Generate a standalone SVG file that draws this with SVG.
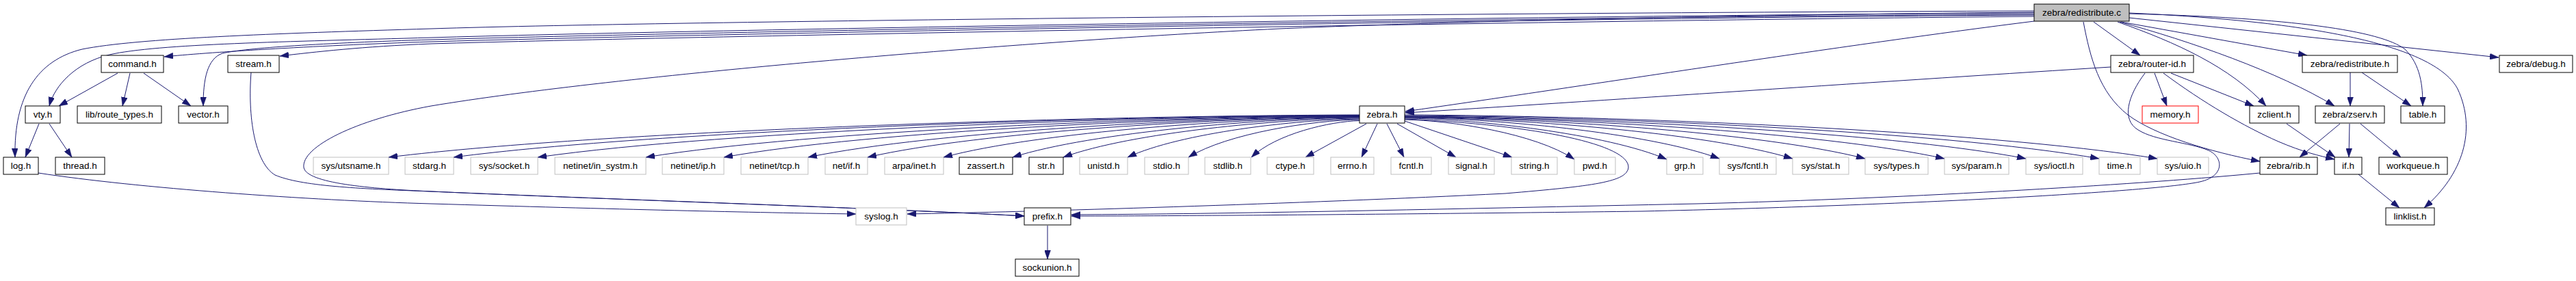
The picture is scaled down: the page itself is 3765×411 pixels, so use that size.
<svg xmlns="http://www.w3.org/2000/svg" width="3765" height="411" viewBox="0 0 3765 411">
<defs>
<marker id="a" markerUnits="userSpaceOnUse" markerWidth="13" markerHeight="9" viewBox="0 0 13 9" refX="13" refY="4.5" orient="auto">
<path d="M0,0 L13,4.5 L0,9 z" fill="#191970" stroke="#191970" stroke-width="0.5"/>
</marker>
</defs>
<style>
rect{stroke-width:1}
.n rect{fill:#fff;stroke:#000}
.s rect{fill:#fff;stroke:#bfbfbf}
.r rect{fill:#fff;stroke:#ff0000}
.t rect{fill:#bfbfbf;stroke:#000}
text{font-family:"Liberation Sans",Arial,sans-serif;font-size:13.5px;text-anchor:middle;fill:#000}
#edges path{fill:none;stroke:#191970;stroke-width:1;marker-end:url(#a)}
</style>
<rect x="0" y="0" width="3765" height="411" fill="#fff"/>
<g id="edges">
<path d="M2973,16 C2300,18 1000,30 630,42 C400,49 200,56 120,72 C55,88 20,140 22,230"/>
<path d="M2973,19 C2300,22 1000,44 630,55 C420,61 230,64 160,80 C110,92 80,125 72,155"/>
<path d="M2973,22 C2300,26 1000,50 630,61 C450,67 300,77 240,83"/>
<path d="M2973,21 C2300,24 1000,47 630,58 C470,63 360,70 325,78 C303,86 297,115 297,155"/>
<path d="M2973,24 C2300,30 1000,53 630,64 C530,68 460,76 409,82"/>
<path d="M2973,18 C2500,22 2100,32 1870,42 C1500,60 900,110 630,155 C520,175 440,215 444,245 C448,268 540,276 630,280 C900,292 1300,305 1497,316"/>
<path d="M2973,31 C2700,65 2300,128 2054,163"/>
<path d="M3085,98 C2800,116 2300,150 2054,165"/>
<path d="M3060,32 L3128,81"/>
<path d="M3045,32 C3055,85 3068,135 3110,168 C3150,198 3230,222 3303,236"/>
<path d="M3100,32 L3372,81"/>
<path d="M3112,26 L3652,84"/>
<path d="M3112,20 C3350,26 3480,45 3515,72 C3538,95 3541,125 3541,155"/>
<path d="M3112,19 C3400,32 3560,70 3592,130 C3620,190 3600,255 3543,304"/>
<path d="M3095,32 C3180,62 3260,98 3312,155"/>
<path d="M3098,32 C3200,60 3330,105 3412,155"/>
<path d="M3149,107 L3167,155"/>
<path d="M3173,107 L3294,155"/>
<path d="M3162,107 C3220,150 3280,185 3330,207 C3365,222 3390,228 3412,233"/>
<path d="M3135,107 C3110,140 3100,175 3125,190 C3150,206 3200,208 3228,220 C3250,230 3252,258 3215,266 C3150,280 2800,300 2400,309 C2000,314 1700,316 1566,316"/>
<path d="M3303,253 C3150,268 2800,290 2480,298 C2100,306 1800,313 1566,314"/>
<path d="M2053,174 C2250,183 2382,212 2380,245 C2378,266 2330,272 2200,283 C1900,298 1500,310 1326,313"/>
<path d="M56,253 C200,275 450,293 630,298 C900,306 1100,311 1251,313"/>
<path d="M367,106 C362,170 372,238 402,256 C440,272 520,276 630,280 C900,292 1300,305 1497,316"/>
<path d="M1531,330 L1531,379"/>
<path d="M172,107 L86,155"/>
<path d="M190,107 L179,155"/>
<path d="M210,107 L279,155"/>
<path d="M57,181 L37,230"/>
<path d="M72,181 L105,230"/>
<path d="M3435,106 L3435,155"/>
<path d="M3452,106 L3524,155"/>
<path d="M3420,181 L3361,230"/>
<path d="M3434,181 L3433,230"/>
<path d="M3450,181 L3509,230"/>
<path d="M3342,181 L3413,230"/>
<path d="M3447,255 L3507,304"/>
<path d="M1987,168 C1604,169 894,190 568,230"/>
<path d="M1987,168.5 C1629,169.5 967,190 663,230"/>
<path d="M1987,169 C1663,170 1062,190.6 786,230"/>
<path d="M1987,169.5 C1705,170.5 1184,191 944,230"/>
<path d="M1987,170 C1736,171 1272,191.3 1058,230"/>
<path d="M1987,170.5 C1769,171.5 1366,191.6 1181,230"/>
<path d="M1987,171 C1793,172 1433,192 1268,230"/>
<path d="M1987,171.5 C1823,172.5 1519,192.3 1379,230"/>
<path d="M1987,172 C1850,173 1597,192.7 1480,230"/>
<path d="M1987,173 C1870,174 1654,193.4 1554,230"/>
<path d="M1987,174 C1895,175 1726,194 1648,230"/>
<path d="M1987,175 C1919,176 1794,194.8 1737,230"/>
<path d="M1987,176.5 C1944,177.5 1865,195.7 1829,230"/>
<path d="M1997,181 L1908,230"/>
<path d="M2013,181 L1990,230"/>
<path d="M2027,181 L2052,230"/>
<path d="M2042,181 L2128,230"/>
<path d="M2053,177 L2210,230"/>
<path d="M2053,175 C2120,176 2244,195 2301,233"/>
<path d="M2053,173 C2156,174 2348,195.6 2436,233"/>
<path d="M2053,172 C2177,173 2407,193 2513,232"/>
<path d="M2053,171.5 C2206,172.5 2490,192.7 2620,232"/>
<path d="M2053,171 C2235,172 2571,192.4 2726,232"/>
<path d="M2053,170.5 C2266,171.5 2660,192 2842,232"/>
<path d="M2053,170 C2298,171 2752,191.7 2961,232"/>
<path d="M2053,169 C2327,170 2834,191 3068,232"/>
<path d="M2053,168 C2350,169 2900,190.4 3153,232"/>
</g>
<g id="zebra_redistribute_c" class="t"><rect x="2973" y="6" width="139" height="25"/><text x="3042.5" y="23">zebra/redistribute.c</text></g>
<g id="command_h" class="n"><rect x="148" y="81" width="91" height="25"/><text x="193.5" y="98">command.h</text></g>
<g id="stream_h" class="n"><rect x="333" y="81" width="75" height="25"/><text x="370.5" y="98">stream.h</text></g>
<g id="zebra_router_id_h" class="n"><rect x="3085" y="81" width="121" height="25"/><text x="3145.5" y="98">zebra/router-id.h</text></g>
<g id="zebra_redistribute_h" class="n"><rect x="3365" y="81" width="139" height="25"/><text x="3434.5" y="98">zebra/redistribute.h</text></g>
<g id="zebra_debug_h" class="n"><rect x="3653" y="81" width="107" height="25"/><text x="3706.5" y="98">zebra/debug.h</text></g>
<g id="vty_h" class="n"><rect x="37" y="155" width="51" height="25"/><text x="62.5" y="172">vty.h</text></g>
<g id="lib_route_types_h" class="n"><rect x="113" y="155" width="123" height="25"/><text x="174.5" y="172">lib/route_types.h</text></g>
<g id="vector_h" class="n"><rect x="261" y="155" width="72" height="25"/><text x="297" y="172">vector.h</text></g>
<g id="zebra_h" class="n"><rect x="1987" y="155" width="66" height="25"/><text x="2020" y="172">zebra.h</text></g>
<g id="memory_h" class="r"><rect x="3131" y="155" width="82" height="25"/><text x="3172" y="172">memory.h</text></g>
<g id="zclient_h" class="n"><rect x="3288" y="155" width="72" height="25"/><text x="3324" y="172">zclient.h</text></g>
<g id="zebra_zserv_h" class="n"><rect x="3384" y="155" width="101" height="25"/><text x="3434.5" y="172">zebra/zserv.h</text></g>
<g id="table_h" class="n"><rect x="3509" y="155" width="64" height="25"/><text x="3541" y="172">table.h</text></g>
<g id="log_h" class="n"><rect x="5" y="230" width="51" height="25"/><text x="30.5" y="247">log.h</text></g>
<g id="thread_h" class="n"><rect x="81" y="230" width="72" height="25"/><text x="117" y="247">thread.h</text></g>
<g id="sys_utsname_h" class="s"><rect x="458" y="230" width="110" height="25"/><text x="513" y="247">sys/utsname.h</text></g>
<g id="stdarg_h" class="s"><rect x="592" y="230" width="71" height="25"/><text x="627.5" y="247">stdarg.h</text></g>
<g id="sys_socket_h" class="s"><rect x="688" y="230" width="98" height="25"/><text x="737" y="247">sys/socket.h</text></g>
<g id="netinet_in_systm_h" class="s"><rect x="811" y="230" width="133" height="25"/><text x="877.5" y="247">netinet/in_systm.h</text></g>
<g id="netinet_ip_h" class="s"><rect x="968" y="230" width="90" height="25"/><text x="1013" y="247">netinet/ip.h</text></g>
<g id="netinet_tcp_h" class="s"><rect x="1083" y="230" width="98" height="25"/><text x="1132" y="247">netinet/tcp.h</text></g>
<g id="net_if_h" class="s"><rect x="1206" y="230" width="62" height="25"/><text x="1237" y="247">net/if.h</text></g>
<g id="arpa_inet_h" class="s"><rect x="1293" y="230" width="86" height="25"/><text x="1336" y="247">arpa/inet.h</text></g>
<g id="zassert_h" class="n"><rect x="1402" y="230" width="78" height="25"/><text x="1441" y="247">zassert.h</text></g>
<g id="str_h" class="n"><rect x="1504" y="230" width="50" height="25"/><text x="1529" y="247">str.h</text></g>
<g id="unistd_h" class="s"><rect x="1578" y="230" width="70" height="25"/><text x="1613" y="247">unistd.h</text></g>
<g id="stdio_h" class="s"><rect x="1673" y="230" width="64" height="25"/><text x="1705" y="247">stdio.h</text></g>
<g id="stdlib_h" class="s"><rect x="1761" y="230" width="67" height="25"/><text x="1794.5" y="247">stdlib.h</text></g>
<g id="ctype_h" class="s"><rect x="1852" y="230" width="68" height="25"/><text x="1886" y="247">ctype.h</text></g>
<g id="errno_h" class="s"><rect x="1945" y="230" width="63" height="25"/><text x="1976.5" y="247">errno.h</text></g>
<g id="fcntl_h" class="s"><rect x="2033" y="230" width="59" height="25"/><text x="2062.5" y="247">fcntl.h</text></g>
<g id="signal_h" class="s"><rect x="2117" y="230" width="67" height="25"/><text x="2150.5" y="247">signal.h</text></g>
<g id="string_h" class="s"><rect x="2209" y="230" width="67" height="25"/><text x="2242.5" y="247">string.h</text></g>
<g id="pwd_h" class="s"><rect x="2301" y="230" width="60" height="25"/><text x="2331" y="247">pwd.h</text></g>
<g id="grp_h" class="s"><rect x="2436" y="230" width="53" height="25"/><text x="2462.5" y="247">grp.h</text></g>
<g id="sys_fcntl_h" class="s"><rect x="2513" y="230" width="83" height="25"/><text x="2554.5" y="247">sys/fcntl.h</text></g>
<g id="sys_stat_h" class="s"><rect x="2620" y="230" width="82" height="25"/><text x="2661" y="247">sys/stat.h</text></g>
<g id="sys_types_h" class="s"><rect x="2726" y="230" width="92" height="25"/><text x="2772" y="247">sys/types.h</text></g>
<g id="sys_param_h" class="s"><rect x="2842" y="230" width="94" height="25"/><text x="2889" y="247">sys/param.h</text></g>
<g id="sys_ioctl_h" class="s"><rect x="2961" y="230" width="83" height="25"/><text x="3002.5" y="247">sys/ioctl.h</text></g>
<g id="time_h" class="s"><rect x="3068" y="230" width="60" height="25"/><text x="3098" y="247">time.h</text></g>
<g id="sys_uio_h" class="s"><rect x="3153" y="230" width="75" height="25"/><text x="3190.5" y="247">sys/uio.h</text></g>
<g id="zebra_rib_h" class="n"><rect x="3303" y="230" width="84" height="25"/><text x="3345" y="247">zebra/rib.h</text></g>
<g id="if_h" class="n"><rect x="3412" y="230" width="40" height="25"/><text x="3432" y="247">if.h</text></g>
<g id="workqueue_h" class="n"><rect x="3477" y="230" width="100" height="25"/><text x="3527" y="247">workqueue.h</text></g>
<g id="syslog_h" class="s"><rect x="1251" y="304" width="74" height="25"/><text x="1288" y="321">syslog.h</text></g>
<g id="prefix_h" class="n"><rect x="1497" y="304" width="68" height="25"/><text x="1531" y="321">prefix.h</text></g>
<g id="linklist_h" class="n"><rect x="3487" y="304" width="71" height="25"/><text x="3522.5" y="321">linklist.h</text></g>
<g id="sockunion_h" class="n"><rect x="1484" y="379" width="93" height="25"/><text x="1530.5" y="396">sockunion.h</text></g>
</svg>
